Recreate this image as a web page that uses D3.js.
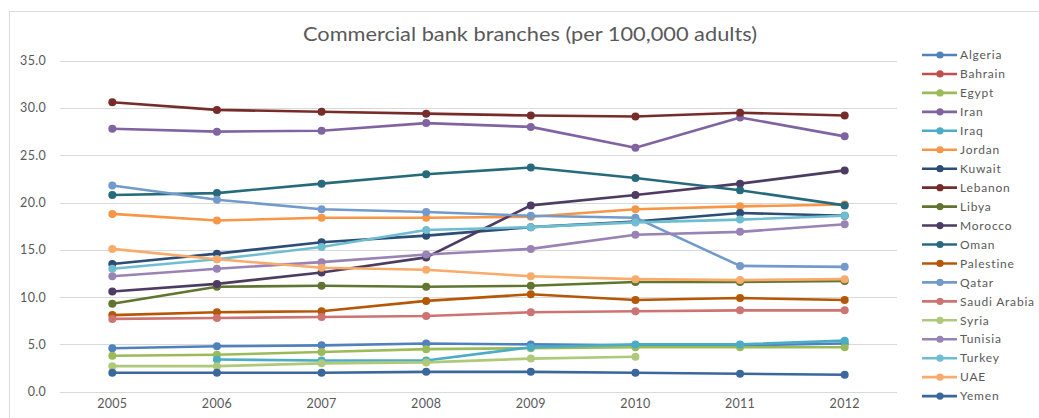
<!DOCTYPE html>
<html>
<head>
<meta charset="utf-8">
<script src="https://cdn.jsdelivr.net/npm/d3@7"></script>
<style>
  html, body { margin: 0; padding: 0; background: #ffffff; }
  svg { display: block; }
  text { font-family: Lato, "Open Sans", sans-serif; fill: #595959; }
</style>
</head>
<body>
<svg id="chart" width="1039" height="418"></svg>
<script>
// Years on the horizontal axis
const years = ["2005", "2006", "2007", "2008", "2009", "2010", "2011", "2012"];

// Value axis ticks
const yTicks = [0, 5, 10, 15, 20, 25, 30, 35];

// Country names, in legend order
const countries = ["Algeria", "Bahrain", "Egypt", "Iran", "Iraq", "Jordan", "Kuwait", "Lebanon",
  "Libya", "Morocco", "Oman", "Palestine", "Qatar", "Saudi Arabia", "Syria", "Tunisia",
  "Turkey", "UAE", "Yemen"];

// Branches per 100,000 adults, one array per country (null = no data)
const algeria     = [4.6, 4.8, 4.9, 5.1, 5.0, 4.9, 4.9, 5.1];
const bahrain     = [null, null, null, null, null, null, null, null];
const egypt       = [3.8, 3.9, 4.2, 4.5, 4.6, 4.7, 4.7, 4.7];
const iran        = [27.8, 27.5, 27.6, 28.4, 28.0, 25.8, 29.0, 27.0];
const iraq        = [null, 3.4, 3.3, 3.3, 4.7, 5.0, 5.0, 5.4];
const jordan      = [18.8, 18.1, 18.4, 18.4, 18.5, 19.3, 19.6, 19.8];
const kuwait      = [13.5, 14.6, 15.8, 16.5, 17.4, 18.0, 18.9, 18.6];
const lebanon     = [30.6, 29.8, 29.6, 29.4, 29.2, 29.1, 29.5, 29.2];
const libya       = [9.3, 11.1, 11.2, 11.1, 11.2, 11.6, 11.6, 11.7];
const morocco     = [10.6, 11.4, 12.6, 14.2, 19.7, 20.8, 22.0, 23.4];
const oman        = [20.8, 21.0, 22.0, 23.0, 23.7, 22.6, 21.3, 19.7];
const palestine   = [8.1, 8.4, 8.5, 9.6, 10.3, 9.7, 9.9, 9.7];
const qatar       = [21.8, 20.3, 19.3, 19.0, 18.6, 18.4, 13.3, 13.2];
const saudiArabia = [7.7, 7.8, 7.9, 8.0, 8.4, 8.5, 8.6, 8.6];
const syria       = [2.7, 2.7, 3.0, 3.1, 3.5, 3.7, null, null];
const tunisia     = [12.2, 13.0, 13.7, 14.5, 15.1, 16.6, 16.9, 17.7];
const turkey      = [13.0, 14.0, 15.3, 17.1, 17.4, 17.9, 18.2, 18.6];
const uae         = [15.1, 14.0, 13.1, 12.9, 12.2, 11.9, 11.8, 11.9];
const yemen       = [2.0, 2.0, 2.0, 2.1, 2.1, 2.0, 1.9, 1.8];

const seriesValues = [algeria, bahrain, egypt, iran, iraq, jordan, kuwait, lebanon, libya,
  morocco, oman, palestine, qatar, saudiArabia, syria, tunisia, turkey, uae, yemen];

// Office theme accents and their shaded / tinted variants
const accents = ["#4F81BD", "#C0504D", "#9BBB59", "#8064A2", "#4BACC6", "#F79646"];
function shade(hex, mod, off) {
  const c = d3.hsl(hex);
  c.l = c.l * mod + off;
  return c.formatHex();
}
const palette = [
  ...accents,
  ...accents.map(c => shade(c, 0.6, 0)),
  ...accents.map(c => shade(c, 0.8, 0.2)),
  shade(accents[0], 0.8, 0)
];

const svg = d3.select("#chart");

// Chart frame
svg.append("rect")
  .attr("x", 9.5).attr("y", 11.5)
  .attr("width", 1060).attr("height", 440)
  .attr("fill", "none").attr("stroke", "#d9d9d9").attr("stroke-width", 1);

// Title
svg.append("text")
  .attr("x", 530).attr("y", 41)
  .attr("text-anchor", "middle")
  .attr("font-size", 19)
  .attr("textLength", 454)
  .attr("lengthAdjust", "spacingAndGlyphs")
  .text("Commercial bank branches (per 100,000 adults)");

const x = d3.scaleBand().domain(years).range([60, 897]);
const y = d3.scaleLinear().domain([0, 35]).range([391.7, 60.7]);

// Horizontal gridlines
svg.append("g")
  .selectAll("line")
  .data(yTicks)
  .join("line")
  .attr("x1", 60).attr("x2", 897)
  .attr("y1", d => Math.round(y(d)) + 0.5)
  .attr("y2", d => Math.round(y(d)) + 0.5)
  .attr("stroke", "#d9d9d9").attr("stroke-width", 1);

// Value axis labels
const yAxis = d3.axisLeft(y).tickValues(yTicks).tickFormat(d3.format(".1f")).tickSize(0).tickPadding(0);
const gy = svg.append("g").attr("transform", "translate(46,0)").call(yAxis);
gy.select(".domain").remove();
gy.selectAll("text")
  .attr("font-size", 12.5)
  .attr("letter-spacing", 0.3)
  .attr("font-family", "Lato, 'Open Sans', sans-serif")
  .attr("fill", "#595959");

// Category axis labels
const xAxis = d3.axisBottom(x).tickSize(0).tickPadding(0);
const gx = svg.append("g").attr("transform", "translate(0,399)").call(xAxis);
gx.select(".domain").remove();
gx.selectAll("text")
  .attr("font-size", 12.5)
  .attr("letter-spacing", 0.3)
  .attr("font-family", "Lato, 'Open Sans', sans-serif")
  .attr("fill", "#595959");

const cx = d => x(d) + x.bandwidth() / 2;

const line = d3.line()
  .defined(d => d.v != null)
  .x(d => cx(d.year))
  .y(d => y(d.v));

const series = countries.map((name, i) => ({
  name,
  color: palette[i],
  points: years.map((year, j) => ({ year, v: seriesValues[i][j] }))
}));

const gSeries = svg.append("g")
  .selectAll("g")
  .data(series)
  .join("g");

gSeries.append("path")
  .attr("d", s => line(s.points))
  .attr("fill", "none")
  .attr("stroke", s => s.color)
  .attr("stroke-width", 2.6)
  .attr("stroke-linejoin", "round")
  .attr("stroke-linecap", "round");

gSeries.selectAll("circle")
  .data(s => s.points.filter(p => p.v != null).map(p => ({ ...p, color: s.color })))
  .join("circle")
  .attr("cx", p => cx(p.year))
  .attr("cy", p => y(p.v))
  .attr("r", 4)
  .attr("fill", p => p.color);

// Legend
const legend = svg.append("g")
  .selectAll("g")
  .data(series)
  .join("g")
  .attr("transform", (s, i) => `translate(922, ${55 + i * 18.95})`);

legend.append("line")
  .attr("x1", 0).attr("x2", 35)
  .attr("stroke", s => s.color).attr("stroke-width", 2.6);

legend.append("circle")
  .attr("cx", 18).attr("r", 3.6)
  .attr("fill", s => s.color);

legend.append("text")
  .attr("x", 38).attr("y", 4.2)
  .attr("font-size", 12)
  .attr("letter-spacing", 0.8)
  .text(s => s.name);
</script>
</body>
</html>
